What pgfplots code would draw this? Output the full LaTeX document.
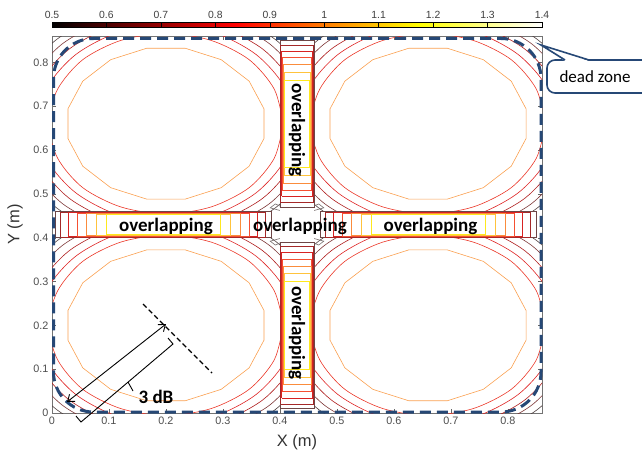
\documentclass[border=0pt]{standalone}
\usepackage{pgfplots}
\pgfplotsset{compat=1.18}
\usepackage{fontspec}
\setmainfont{Liberation Sans}
\newfontfamily\calibri{Carlito}
\usetikzlibrary{arrows.meta,calc}
\newcommand\tlfont{\fontsize{10.8}{12}\selectfont}
\newcommand\cbfont{\fontsize{10.4}{12}\selectfont}
\newcommand\lbfont{\fontsize{16.5}{18}\selectfont}
\newcommand\ovfont{\calibri\bfseries\fontsize{19}{21}\selectfont}
\definecolor{dz}{RGB}{38,72,118}
\definecolor{cOr}{RGB}{250,160,80}
\definecolor{cR1}{RGB}{235,55,40}
\definecolor{cR2}{RGB}{222,35,35}
\definecolor{cR3}{RGB}{175,30,30}
\definecolor{cR4}{RGB}{125,55,55}
\definecolor{cR5}{RGB}{80,65,65}
\definecolor{k1}{RGB}{110,70,70}
\definecolor{k2}{RGB}{165,40,40}
\definecolor{k3}{RGB}{215,35,35}
\definecolor{k4}{RGB}{245,80,50}
\definecolor{k5}{RGB}{250,140,60}
\definecolor{k6}{RGB}{255,195,60}
\definecolor{k7}{RGB}{255,232,30}
\definecolor{kg}{RGB}{120,110,110}
\begin{document}
\begin{tikzpicture}
\path[use as bounding box] (-52pt,-43pt) rectangle (590pt,413pt);
\begin{axis}[
  scale only axis, width=490pt, height=377pt,
  at={(0pt,0pt)}, anchor=south west,
  xmin=0, xmax=0.86, ymin=0, ymax=0.86,
  xtick={0,0.1,0.2,0.3,0.4,0.5,0.6,0.7,0.8},
  ytick={0,0.1,0.2,0.3,0.4,0.5,0.6,0.7,0.8},
  xticklabels={\tlfont 0,\tlfont 0.1,\tlfont 0.2,\tlfont 0.3,\tlfont 0.4,\tlfont 0.5,\tlfont 0.6,\tlfont 0.7,\tlfont 0.8},
  yticklabels={\tlfont 0,\tlfont 0.1,\tlfont 0.2,\tlfont 0.3,\tlfont 0.4,\tlfont 0.5,\tlfont 0.6,\tlfont 0.7,\tlfont 0.8},
  xticklabel style={text=black!70},
  yticklabel style={text=black!70},
  axis line style={black!55},
  tick style={black!60},
  major tick length=4pt,
  xlabel={\lbfont X (m)}, ylabel={\lbfont Y (m)},
  every axis x label/.style={at={(axis description cs:0.5,-0.077)},anchor=center,text=black!80},
  every axis y label/.style={at={(axis description cs:-0.0755,0.5)},rotate=90,anchor=center,text=black!80},
  every axis plot/.append style={line width=0.6pt},
  colormap={hotc}{rgb255(0cm)=(0,0,0) rgb255(3.375cm)=(255,0,0) rgb255(6.75cm)=(255,255,0) rgb255(9cm)=(255,255,255)},
  point meta min=0.5, point meta max=1.4,
  colorbar horizontal,
  colorbar shift/.style={},
  colorbar style={
    scale only axis,
    width=490pt, height=5.5pt,
    at={($(parent axis.north west)+(0pt,8.5pt)$)}, anchor=south west,
    xtick={0.5,0.6,0.7,0.8,0.9,1,1.1,1.2,1.3,1.4},
    xticklabels={\cbfont 0.5,\cbfont 0.6,\cbfont 0.7,\cbfont 0.8,\cbfont 0.9,\cbfont 1,\cbfont 1.1,\cbfont 1.2,\cbfont 1.3,\cbfont 1.4},
    xticklabel pos=upper,
    major tick length=5.5pt,
    tick style={black, line width=0.5pt},
    xticklabel style={text=black!75},
    axis line style={black, line width=0.6pt},
  },
]
% ---------- lower-left cell
\begin{scope}
\clip (axis cs:0,0) rectangle (axis cs:0.40,0.40);
\addplot[cOr] coordinates {(.372,.234)(.346,.297)(.297,.346)(.234,.372)(.166,.372)(.103,.346)(.054,.297)(.028,.234)(.028,.166)(.054,.103)(.103,.054)(.166,.028)(.234,.028)(.297,.054)(.346,.103)(.372,.166)(.372,.234)};
\addplot[cR1,smooth] coordinates {(.406,.2)(.390,.279)(.346,.346)(.279,.390)(.2,.406)(.121,.390)(.054,.346)(.010,.279)(-.006,.2)(.010,.121)(.054,.054)(.121,.010)(.2,-.006)(.279,.010)(.346,.054)(.390,.121)(.406,.2)};
\addplot[cR2,smooth] coordinates {(.424,.2)(.407,.286)(.358,.358)(.286,.407)(.2,.424)(.114,.407)(.042,.358)(-.007,.286)(-.024,.2)(-.007,.114)(.042,.042)(.114,-.007)(.2,-.024)(.286,-.007)(.358,.042)(.407,.114)(.424,.2)};
\addplot[cR3,smooth] coordinates {(.440,.2)(.422,.292)(.370,.370)(.292,.422)(.2,.440)(.108,.422)(.030,.370)(-.022,.292)(-.040,.2)(-.022,.108)(.030,.030)(.108,-.022)(.2,-.040)(.292,-.022)(.370,.030)(.422,.108)(.440,.2)};
\addplot[cR4,smooth] coordinates {(.457,.2)(.437,.298)(.382,.382)(.298,.437)(.2,.457)(.102,.437)(.018,.382)(-.037,.298)(-.057,.2)(-.037,.102)(.018,.018)(.102,-.037)(.2,-.057)(.298,-.037)(.382,.018)(.437,.102)(.457,.2)};
\addplot[cR5,smooth] coordinates {(.472,.2)(.451,.304)(.392,.392)(.304,.451)(.2,.472)(.096,.451)(.008,.392)(-.051,.304)(-.072,.2)(-.051,.096)(.008,.008)(.096,-.051)(.2,-.072)(.304,-.051)(.392,.008)(.451,.096)(.472,.2)};
\end{scope}
% ---------- lower-right cell
\begin{scope}
\clip (axis cs:0.46,0) rectangle (axis cs:0.86,0.40);
\addplot[cOr] coordinates {(.832,.234)(.806,.297)(.757,.346)(.694,.372)(.626,.372)(.563,.346)(.514,.297)(.488,.234)(.488,.166)(.514,.103)(.563,.054)(.626,.028)(.694,.028)(.757,.054)(.806,.103)(.832,.166)(.832,.234)};
\addplot[cR1,smooth] coordinates {(.866,.2)(.850,.279)(.806,.346)(.739,.390)(.66,.406)(.581,.390)(.514,.346)(.470,.279)(.454,.2)(.470,.121)(.514,.054)(.581,.010)(.66,-.006)(.739,.010)(.806,.054)(.850,.121)(.866,.2)};
\addplot[cR2,smooth] coordinates {(.884,.2)(.867,.286)(.818,.358)(.746,.407)(.66,.424)(.574,.407)(.502,.358)(.453,.286)(.436,.2)(.453,.114)(.502,.042)(.574,-.007)(.66,-.024)(.746,-.007)(.818,.042)(.867,.114)(.884,.2)};
\addplot[cR3,smooth] coordinates {(.900,.2)(.882,.292)(.830,.370)(.752,.422)(.66,.440)(.568,.422)(.490,.370)(.438,.292)(.420,.2)(.438,.108)(.490,.030)(.568,-.022)(.66,-.040)(.752,-.022)(.830,.030)(.882,.108)(.900,.2)};
\addplot[cR4,smooth] coordinates {(.917,.2)(.897,.298)(.842,.382)(.758,.437)(.66,.457)(.562,.437)(.478,.382)(.423,.298)(.403,.2)(.423,.102)(.478,.018)(.562,-.037)(.66,-.057)(.758,-.037)(.842,.018)(.897,.102)(.917,.2)};
\addplot[cR5,smooth] coordinates {(.932,.2)(.911,.304)(.852,.392)(.764,.451)(.66,.472)(.556,.451)(.468,.392)(.409,.304)(.388,.2)(.409,.096)(.468,.008)(.556,-.051)(.66,-.072)(.764,-.051)(.852,.008)(.911,.096)(.932,.2)};
\end{scope}
% ---------- upper-left cell
\begin{scope}
\clip (axis cs:0,0.46) rectangle (axis cs:0.40,0.86);
\addplot[cOr] coordinates {(.372,.694)(.346,.757)(.297,.806)(.234,.832)(.166,.832)(.103,.806)(.054,.757)(.028,.694)(.028,.626)(.054,.563)(.103,.514)(.166,.488)(.234,.488)(.297,.514)(.346,.563)(.372,.626)(.372,.694)};
\addplot[cR1,smooth] coordinates {(.406,.66)(.390,.739)(.346,.806)(.279,.850)(.2,.866)(.121,.850)(.054,.806)(.010,.739)(-.006,.66)(.010,.581)(.054,.514)(.121,.470)(.2,.454)(.279,.470)(.346,.514)(.390,.581)(.406,.66)};
\addplot[cR2,smooth] coordinates {(.424,.66)(.407,.746)(.358,.818)(.286,.867)(.2,.884)(.114,.867)(.042,.818)(-.007,.746)(-.024,.66)(-.007,.574)(.042,.502)(.114,.453)(.2,.436)(.286,.453)(.358,.502)(.407,.574)(.424,.66)};
\addplot[cR3,smooth] coordinates {(.440,.66)(.422,.752)(.370,.830)(.292,.882)(.2,.900)(.108,.882)(.030,.830)(-.022,.752)(-.040,.66)(-.022,.568)(.030,.490)(.108,.438)(.2,.420)(.292,.438)(.370,.490)(.422,.568)(.440,.66)};
\addplot[cR4,smooth] coordinates {(.457,.66)(.437,.758)(.382,.842)(.298,.897)(.2,.917)(.102,.897)(.018,.842)(-.037,.758)(-.057,.66)(-.037,.562)(.018,.478)(.102,.423)(.2,.403)(.298,.423)(.382,.478)(.437,.562)(.457,.66)};
\addplot[cR5,smooth] coordinates {(.472,.66)(.451,.764)(.392,.852)(.304,.911)(.2,.932)(.096,.911)(.008,.852)(-.051,.764)(-.072,.66)(-.051,.556)(.008,.468)(.096,.409)(.2,.388)(.304,.409)(.392,.468)(.451,.556)(.472,.66)};
\end{scope}
% ---------- upper-right cell
\begin{scope}
\clip (axis cs:0.46,0.46) rectangle (axis cs:0.86,0.86);
\addplot[cOr] coordinates {(.832,.694)(.806,.757)(.757,.806)(.694,.832)(.626,.832)(.563,.806)(.514,.757)(.488,.694)(.488,.626)(.514,.563)(.563,.514)(.626,.488)(.694,.488)(.757,.514)(.806,.563)(.832,.626)(.832,.694)};
\addplot[cR1,smooth] coordinates {(.866,.66)(.850,.739)(.806,.806)(.739,.850)(.66,.866)(.581,.850)(.514,.806)(.470,.739)(.454,.66)(.470,.581)(.514,.514)(.581,.470)(.66,.454)(.739,.470)(.806,.514)(.850,.581)(.866,.66)};
\addplot[cR2,smooth] coordinates {(.884,.66)(.867,.746)(.818,.818)(.746,.867)(.66,.884)(.574,.867)(.502,.818)(.453,.746)(.436,.66)(.453,.574)(.502,.502)(.574,.453)(.66,.436)(.746,.453)(.818,.502)(.867,.574)(.884,.66)};
\addplot[cR3,smooth] coordinates {(.900,.66)(.882,.752)(.830,.830)(.752,.882)(.66,.900)(.568,.882)(.490,.830)(.438,.752)(.420,.66)(.438,.568)(.490,.490)(.568,.438)(.66,.420)(.752,.438)(.830,.490)(.882,.568)(.900,.66)};
\addplot[cR4,smooth] coordinates {(.917,.66)(.897,.758)(.842,.842)(.758,.897)(.66,.917)(.562,.897)(.478,.842)(.423,.758)(.403,.66)(.423,.562)(.478,.478)(.562,.423)(.66,.403)(.758,.423)(.842,.478)(.897,.562)(.917,.66)};
\addplot[cR5,smooth] coordinates {(.932,.66)(.911,.764)(.852,.852)(.764,.911)(.66,.932)(.556,.911)(.468,.852)(.409,.764)(.388,.66)(.409,.556)(.468,.468)(.556,.409)(.66,.388)(.764,.409)(.852,.468)(.911,.556)(.932,.66)};
\end{scope}
% ---------- horizontal overlap band (left half)
\addplot[k1,line width=0.45pt] coordinates {(.005,.400)(.385,.400)(.385,.460)(.005,.460)(.005,.400)};
\addplot[k2,line width=0.45pt] coordinates {(.015,.4013)(.375,.4013)(.375,.4587)(.015,.4587)(.015,.4013)};
\addplot[k3,line width=0.45pt] coordinates {(.029,.4026)(.361,.4026)(.361,.4574)(.029,.4574)(.029,.4026)};
\addplot[k4,line width=0.45pt] coordinates {(.044,.4039)(.346,.4039)(.346,.4561)(.044,.4561)(.044,.4039)};
\addplot[k5,line width=0.45pt] coordinates {(.060,.4052)(.330,.4052)(.330,.4548)(.060,.4548)(.060,.4052)};
\addplot[k6,line width=0.45pt] coordinates {(.077,.4065)(.313,.4065)(.313,.4535)(.077,.4535)(.077,.4065)};
\addplot[k7,line width=0.6pt] coordinates {(.095,.4078)(.295,.4078)(.295,.4522)(.095,.4522)(.095,.4078)};
% ---------- horizontal overlap band (right half)
\addplot[k1,line width=0.45pt] coordinates {(.470,.400)(.850,.400)(.850,.460)(.470,.460)(.470,.400)};
\addplot[k2,line width=0.45pt] coordinates {(.480,.4013)(.840,.4013)(.840,.4587)(.480,.4587)(.480,.4013)};
\addplot[k3,line width=0.45pt] coordinates {(.494,.4026)(.826,.4026)(.826,.4574)(.494,.4574)(.494,.4026)};
\addplot[k4,line width=0.45pt] coordinates {(.509,.4039)(.811,.4039)(.811,.4561)(.509,.4561)(.509,.4039)};
\addplot[k5,line width=0.45pt] coordinates {(.525,.4052)(.795,.4052)(.795,.4548)(.525,.4548)(.525,.4052)};
\addplot[k6,line width=0.45pt] coordinates {(.542,.4065)(.778,.4065)(.778,.4535)(.542,.4535)(.542,.4065)};
\addplot[k7,line width=0.6pt] coordinates {(.560,.4078)(.760,.4078)(.760,.4522)(.560,.4522)(.560,.4078)};
% ---------- vertical overlap band (lower half)
\addplot[k1,line width=0.45pt] coordinates {(.400,.010)(.400,.390)(.460,.390)(.460,.010)(.400,.010)};
\addplot[k2,line width=0.45pt] coordinates {(.4014,.020)(.4014,.380)(.4586,.380)(.4586,.020)(.4014,.020)};
\addplot[k3,line width=0.45pt] coordinates {(.4028,.034)(.4028,.366)(.4572,.366)(.4572,.034)(.4028,.034)};
\addplot[k4,line width=0.45pt] coordinates {(.4042,.049)(.4042,.351)(.4558,.351)(.4558,.049)(.4042,.049)};
\addplot[k5,line width=0.45pt] coordinates {(.4056,.065)(.4056,.335)(.4544,.335)(.4544,.065)(.4056,.065)};
\addplot[k6,line width=0.45pt] coordinates {(.407,.082)(.407,.318)(.453,.318)(.453,.082)(.407,.082)};
\addplot[k7,line width=0.6pt] coordinates {(.4084,.100)(.4084,.300)(.4516,.300)(.4516,.100)(.4084,.100)};
% ---------- vertical overlap band (upper half)
\addplot[k1,line width=0.45pt] coordinates {(.400,.470)(.400,.850)(.460,.850)(.460,.470)(.400,.470)};
\addplot[k2,line width=0.45pt] coordinates {(.4014,.480)(.4014,.840)(.4586,.840)(.4586,.480)(.4014,.480)};
\addplot[k3,line width=0.45pt] coordinates {(.4028,.494)(.4028,.826)(.4572,.826)(.4572,.494)(.4028,.494)};
\addplot[k4,line width=0.45pt] coordinates {(.4042,.509)(.4042,.811)(.4558,.811)(.4558,.509)(.4042,.509)};
\addplot[k5,line width=0.45pt] coordinates {(.4056,.525)(.4056,.795)(.4544,.795)(.4544,.525)(.4056,.525)};
\addplot[k6,line width=0.45pt] coordinates {(.407,.542)(.407,.778)(.453,.778)(.453,.542)(.407,.542)};
\addplot[k7,line width=0.6pt] coordinates {(.4084,.560)(.4084,.760)(.4516,.760)(.4516,.560)(.4084,.560)};
% ---------- small contours around the crossing
\addplot[kg] coordinates {(.400,.462)(.383,.468)(.392,.477)(.400,.472)};
\addplot[kg] coordinates {(.460,.462)(.477,.468)(.468,.477)(.460,.472)};
\addplot[kg] coordinates {(.400,.398)(.383,.392)(.392,.383)(.400,.388)};
\addplot[kg] coordinates {(.460,.398)(.477,.392)(.468,.383)(.460,.388)};
\end{axis}
\begin{scope}[x=1pt,y=1pt]
% dead-zone boundary
\draw[dz, line width=3pt, dash pattern=on 11pt off 6pt, rounded corners=40pt]
  (1.5,200) -- (1.5,374.5) -- (489,374.5) -- (489,1) -- (1.5,1) -- cycle;
% labels
\node[font=\ovfont] at (114,187) {overlapping};
\node[font=\ovfont] at (248,187) {overlapping};
\node[font=\ovfont] at (378.5,187) {overlapping};
\node[font=\ovfont, rotate=-90] at (245,283) {overlapping};
\node[font=\ovfont, rotate=-90] at (245,80) {overlapping};
% dead zone callout
\draw[dz, line width=1.6pt, rounded corners=8pt, fill=white] (495,320) rectangle (610,353);
\fill[white] (513,352) -- (489,368) -- (537,352) -- cycle;
\draw[dz, line width=1.6pt] (513,353) -- (489,368) -- (537,353);
\node[font=\calibri\fontsize{17}{19}\selectfont] at (543,336) {dead zone};
% 3 dB annotation
\draw[black, line width=1.1pt, dash pattern=on 5pt off 3pt] (91,109) -- (160,40);
\draw[black, line width=0.9pt, {Straight Barb[length=6pt,width=9pt]}-{Straight Barb[length=6pt,width=9pt]}] (15,11) -- (114,89);
\draw[black, line width=0.9pt] (24,-3) -- (29,-9) -- (121,69) -- (116,75);
\draw[black, line width=0.9pt] (76,31) -- (81,22);
\node[font=\ovfont] at (104,16) {3 dB};
\end{scope}
\end{tikzpicture}
\end{document}
